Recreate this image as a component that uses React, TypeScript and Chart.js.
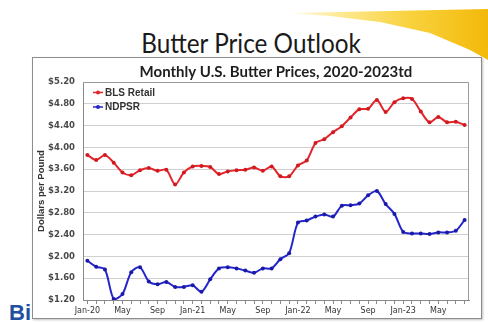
import React, { useEffect, useRef } from 'react';
import { Chart, registerables } from 'chart.js';

Chart.register(...registerables);

const months = [
  'Jan-20', 'Feb-20', 'Mar-20', 'Apr-20', 'May-20', 'Jun-20', 'Jul-20', 'Aug-20', 'Sep-20', 'Oct-20', 'Nov-20', 'Dec-20',
  'Jan-21', 'Feb-21', 'Mar-21', 'Apr-21', 'May-21', 'Jun-21', 'Jul-21', 'Aug-21', 'Sep-21', 'Oct-21', 'Nov-21', 'Dec-21',
  'Jan-22', 'Feb-22', 'Mar-22', 'Apr-22', 'May-22', 'Jun-22', 'Jul-22', 'Aug-22', 'Sep-22', 'Oct-22', 'Nov-22', 'Dec-22',
  'Jan-23', 'Feb-23', 'Mar-23', 'Apr-23', 'May-23', 'Jun-23', 'Jul-23', 'Aug-23',
];

const xTickLabels = ['Jan-20', 'May', 'Sep', 'Jan-21', 'May', 'Sep', 'Jan-22', 'May', 'Sep', 'Jan-23', 'May'];

const blsRetail = [
  3.86, 3.77, 3.86, 3.72, 3.54, 3.49, 3.58, 3.62, 3.57, 3.59,
  3.32, 3.54, 3.65, 3.66, 3.64, 3.51, 3.56, 3.58, 3.59, 3.63,
  3.57, 3.65, 3.47, 3.47, 3.67, 3.76, 4.08, 4.15, 4.28, 4.39,
  4.55, 4.70, 4.71, 4.87, 4.65, 4.83, 4.90, 4.89, 4.66, 4.46,
  4.56, 4.46, 4.47, 4.41,
];

const ndpsr = [
  1.92, 1.81, 1.76, 1.22, 1.31, 1.71, 1.80, 1.54, 1.49, 1.53,
  1.44, 1.44, 1.47, 1.35, 1.58, 1.78, 1.80, 1.78, 1.74, 1.70,
  1.78, 1.78, 1.95, 2.06, 2.62, 2.66, 2.73, 2.77, 2.73, 2.93,
  2.94, 2.97, 3.12, 3.20, 2.96, 2.78, 2.45, 2.42, 2.42, 2.41,
  2.44, 2.44, 2.47, 2.67,
];

const yMin = 1.2;
const yMax = 5.2;
const yStep = 0.4;

const pageTitle = 'Butter Price Outlook';
const chartTitle = 'Monthly U.S. Butter Prices, 2020-2023td';
const yTitle = 'Dollars per Pound';

const insideLegend = {
  id: 'insideLegend',
  afterDraw(chart: any) {
    const { ctx, chartArea } = chart;
    ctx.save();
    ctx.font = 'bold 10px "Liberation Sans", Arial, sans-serif';
    ctx.textBaseline = 'middle';
    ctx.textAlign = 'left';
    chart.data.datasets.forEach((ds: any, i: number) => {
      const y = chartArea.top + 10.5 + i * 14.5;
      const x0 = chartArea.left + 10;
      ctx.strokeStyle = ds.borderColor;
      ctx.lineWidth = 1.5;
      ctx.beginPath();
      ctx.moveTo(x0, y);
      ctx.lineTo(x0 + 10, y);
      ctx.stroke();
      ctx.fillStyle = ds.borderColor;
      ctx.beginPath();
      ctx.arc(x0 + 5, y, 2, 0, Math.PI * 2);
      ctx.fill();
      ctx.fillStyle = '#333';
      ctx.fillText(ds.label, x0 + 12, y + 0.5);
    });
    ctx.restore();
  },
};

const plotFrame = {
  id: 'plotFrame',
  beforeDatasetsDraw(chart: any) {
    const { ctx, chartArea } = chart;
    ctx.save();
    ctx.strokeStyle = '#9a9a9a';
    ctx.lineWidth = 1;
    ctx.beginPath();
    ctx.moveTo(chartArea.left, chartArea.top + 0.5);
    ctx.lineTo(chartArea.right - 0.5, chartArea.top + 0.5);
    ctx.lineTo(chartArea.right - 0.5, chartArea.bottom);
    ctx.stroke();
    ctx.restore();
  },
};

function ButterChart() {
  const ref = useRef<HTMLCanvasElement | null>(null);
  useEffect(() => {
    if (!ref.current) return;
    const chart = new Chart(ref.current, {
      type: 'line',
      data: {
        labels: months,
        datasets: [
          {
            label: 'BLS Retail',
            data: blsRetail,
            borderColor: '#e3262b',
            backgroundColor: '#e3262b',
            borderWidth: 2,
            pointRadius: 2,
            pointBorderWidth: 0,
            pointBackgroundColor: '#d11a20',
            tension: 0.3,
          },
          {
            label: 'NDPSR',
            data: ndpsr,
            borderColor: '#2525cc',
            backgroundColor: '#2525cc',
            borderWidth: 2,
            pointRadius: 2,
            pointBorderWidth: 0,
            pointBackgroundColor: '#1a1aa8',
            tension: 0.3,
          },
        ],
      },
      options: {
        responsive: false,
        maintainAspectRatio: false,
        animation: false,
        layout: { padding: { left: 0, right: 12, top: 0, bottom: 0 } },
        plugins: {
          legend: { display: false },
          tooltip: { enabled: false },
          title: {
            display: true,
            text: chartTitle,
            fullSize: false,
            color: '#1e1e1e',
            font: { family: 'Lato, "Liberation Sans", sans-serif', size: 15, weight: 'bold', lineHeight: 1.2 },
            padding: { top: 5, bottom: 1 },
          },
        },
        scales: {
          x: {
            type: 'category',
            offset: true,
            afterFit: (s: any) => { s.height = 18; },
            grid: {
              display: true,
              drawOnChartArea: false,
              drawTicks: true,
              tickLength: 4,
              color: '#8a8a8a',
            },
            border: { display: true, color: '#8a8a8a', width: 1 },
            ticks: {
              autoSkip: false,
              maxRotation: 0,
              minRotation: 0,
              padding: 2,
              color: '#333',
              font: { family: '"DejaVu Sans", sans-serif', size: 8 },
              callback: (_v: any, index: number) => (index % 4 === 0 ? xTickLabels[index / 4] : ''),
            },
          },
          y: {
            min: yMin,
            max: yMax,
            afterFit: (s: any) => { s.width = 50; },
            grid: { color: '#cfcfcf', lineWidth: 1, drawTicks: false },
            border: { display: true, color: '#8a8a8a', width: 1 },
            ticks: {
              stepSize: yStep,
              padding: 8,
              color: '#4a4a4a',
              font: { family: '"DejaVu Sans", sans-serif', size: 8.5, weight: 'bold' },
              callback: (v: any) => '$' + Number(v).toFixed(2),
            },
            title: {
              display: true,
              text: yTitle,
              color: '#333',
              font: { family: '"Liberation Sans", Arial, sans-serif', size: 9.5, weight: 'bold', lineHeight: 1.2 },
              padding: { top: 3, bottom: 0 },
            },
          },
        },
      },
      plugins: [plotFrame, insideLegend],
    });
    return () => chart.destroy();
  }, []);
  return <canvas ref={ref} width={448} height={260} style={{ display: 'block', width: 448, height: 260 }} />;
}

export default function App() {
  return (
    <div
      style={{
        position: 'absolute',
        left: 0,
        top: 0,
        width: 488,
        height: 322,
        overflow: 'hidden',
        background: '#ffffff',
      }}
    >
      <div
        style={{
          position: 'absolute',
          left: 280,
          top: 0,
          width: 208,
          height: 70,
          background: 'linear-gradient(90deg, rgba(255,246,200,0.2) 0%, #fde98f 30%, #f9d23e 62%, #f3b90a 100%)',
          clipPath: 'polygon(10px 13px, 208px 9px, 208px 60px, 190px 50px, 150px 33px, 100px 22px, 50px 16px)',
        }}
      />
      <div
        style={{
          position: 'absolute',
          left: 0,
          top: 29,
          width: 502,
          textAlign: 'center',
          fontFamily: 'Lato, "Liberation Sans", sans-serif',
          fontSize: 27,
          lineHeight: '27px',
          color: '#1a1a1a',
          whiteSpace: 'nowrap',
          transform: 'scaleX(0.9)',
          transformOrigin: '251px 50%',
        }}
      >
        {pageTitle}
      </div>
      <div
        style={{
          position: 'absolute',
          left: 9,
          top: 302,
          fontFamily: '"Liberation Sans", Arial, sans-serif',
          fontWeight: 'bold',
          fontSize: 22,
          lineHeight: '22px',
          color: '#1f4f9f',
        }}
      >
        Bi
      </div>
      <div
        style={{
          position: 'absolute',
          left: 32,
          top: 57,
          width: 450,
          height: 262,
          boxSizing: 'border-box',
          border: '1px solid #8c8c8c',
          background: '#ffffff',
          boxShadow: '1px 1px 2px rgba(0,0,0,0.25)',
        }}
      >
        <ButterChart />
      </div>
    </div>
  );
}
